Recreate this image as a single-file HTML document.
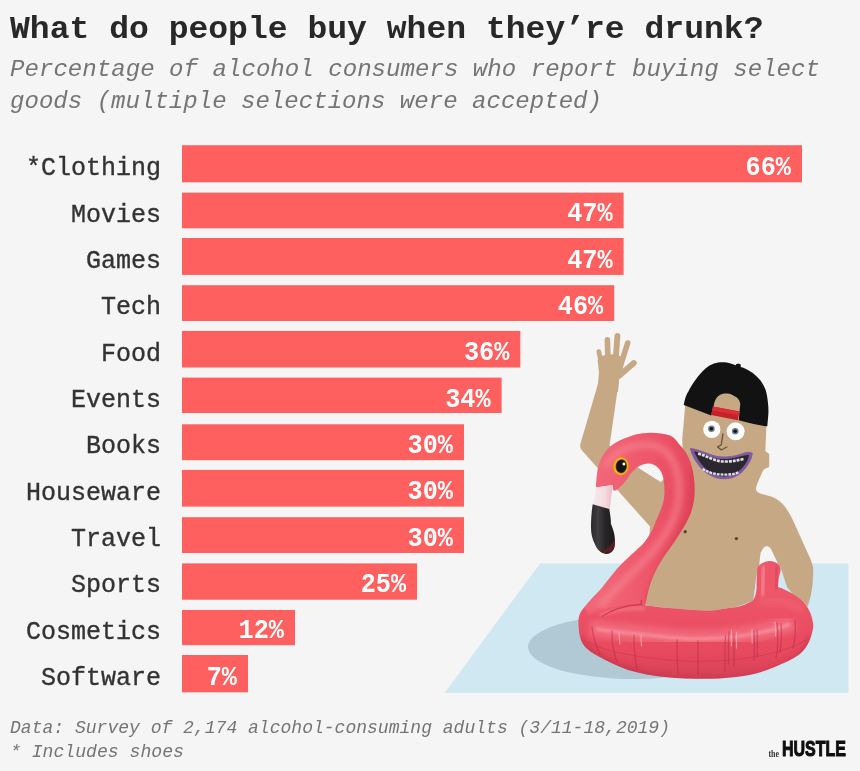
<!DOCTYPE html>
<html><head><meta charset="utf-8">
<style>
html,body{margin:0;padding:0;background:#f5f5f5;}
body{width:860px;height:771px;overflow:hidden;font-family:"Liberation Mono",monospace;}
svg{display:block;position:absolute;left:0;top:0;filter:blur(0.55px);}
text{font-family:"Liberation Mono",monospace;}
.lbl text{font-size:25px;fill:#333;text-anchor:end;stroke:#333;stroke-width:0.35px;}
.val text{font-size:26.4px;font-weight:bold;fill:#fff;text-anchor:end;}
</style></head><body>
<svg width="860" height="771" viewBox="0 0 860 771">
<rect width="860" height="771" fill="#f5f5f5"/>
<!-- TITLE -->
<text transform="translate(10,38.2) scale(1,1.07)" x="0" y="0" font-size="30" font-weight="bold" fill="#282828" textLength="753.5" lengthAdjust="spacingAndGlyphs">What do people buy when they’re drunk?</text>
<text x="10" y="76" font-size="24" font-style="italic" fill="#757575" textLength="810" lengthAdjust="spacingAndGlyphs">Percentage of alcohol consumers who report buying select</text>
<text x="10" y="107.5" font-size="24" font-style="italic" fill="#757575" textLength="592" lengthAdjust="spacingAndGlyphs">goods (multiple selections were accepted)</text>
<!-- BARS -->
<g fill="#fe605f">
<rect x="182" y="145.2" width="620.0" height="37.1"/>
<rect x="182" y="192.6" width="441.6" height="35.7"/>
<rect x="182" y="238.0" width="441.6" height="36.9"/>
<rect x="182" y="285.2" width="432.2" height="35.8"/>
<rect x="182" y="330.9" width="338.3" height="36.6"/>
<rect x="182" y="377.6" width="319.6" height="35.4"/>
<rect x="182" y="424.3" width="282.0" height="35.9"/>
<rect x="182" y="469.9" width="282.0" height="36.7"/>
<rect x="182" y="517.2" width="282.0" height="35.8"/>
<rect x="182" y="563.4" width="235.1" height="36.3"/>
<rect x="182" y="610.0" width="113.0" height="35.2"/>
<rect x="182" y="655.0" width="66.0" height="37.3"/>
</g>
<!-- LABELS -->
<g class="lbl">
<text transform="translate(161,175.2) scale(1,1.05)">*Clothing</text>
<text transform="translate(161,221.6) scale(1,1.05)">Movies</text>
<text transform="translate(161,267.9) scale(1,1.05)">Games</text>
<text transform="translate(161,314.3) scale(1,1.05)">Tech</text>
<text transform="translate(161,360.6) scale(1,1.05)">Food</text>
<text transform="translate(161,407.0) scale(1,1.05)">Events</text>
<text transform="translate(161,453.4) scale(1,1.05)">Books</text>
<text transform="translate(161,499.7) scale(1,1.05)">Houseware</text>
<text transform="translate(161,546.1) scale(1,1.05)">Travel</text>
<text transform="translate(161,592.4) scale(1,1.05)">Sports</text>
<text transform="translate(161,638.8) scale(1,1.05)">Cosmetics</text>
<text transform="translate(161,685.2) scale(1,1.05)">Software</text>
</g>
<g class="val">
<text transform="translate(791.0,175.0) scale(0.955,1.08)">66%</text>
<text transform="translate(612.6,221.3) scale(0.955,1.08)">47%</text>
<text transform="translate(612.6,267.7) scale(0.955,1.08)">47%</text>
<text transform="translate(603.2,314.0) scale(0.955,1.08)">46%</text>
<text transform="translate(509.3,360.4) scale(0.955,1.08)">36%</text>
<text transform="translate(490.6,406.7) scale(0.955,1.08)">34%</text>
<text transform="translate(453.0,453.0) scale(0.955,1.08)">30%</text>
<text transform="translate(453.0,499.4) scale(0.955,1.08)">30%</text>
<text transform="translate(453.0,545.7) scale(0.955,1.08)">30%</text>
<text transform="translate(406.1,592.1) scale(0.955,1.08)">25%</text>
<text transform="translate(284.0,638.4) scale(0.955,1.08)">12%</text>
<text transform="translate(237.0,684.7) scale(0.955,1.08)">7%</text>
</g>
<!-- FOOTER -->
<text x="10" y="733.2" font-size="19" font-style="italic" fill="#757575" textLength="660" lengthAdjust="spacingAndGlyphs">Data: Survey of 2,174 alcohol-consuming adults (3/11-18,2019)</text>
<text x="10" y="757.2" font-size="19" font-style="italic" fill="#757575" textLength="174" lengthAdjust="spacingAndGlyphs">* Includes shoes</text>
<!-- LOGO -->
<g id="logo">
<text x="782" y="756.4" style="font-family:'Liberation Sans',sans-serif" font-size="21.5" font-weight="bold" fill="#0e0e0e" stroke="#0e0e0e" stroke-width="1" textLength="64" lengthAdjust="spacingAndGlyphs">HUSTLE</text>
<text x="768.4" y="756.6" style="font-family:'Liberation Serif',serif" font-size="11" font-weight="bold" fill="#333" textLength="10.5" lengthAdjust="spacingAndGlyphs">the</text>
</g>

<!-- ILLUSTRATION -->
<defs>
<linearGradient id="ringG" gradientUnits="userSpaceOnUse" x1="0" y1="590" x2="0" y2="680">
<stop offset="0" stop-color="#ee576a"/><stop offset="0.3" stop-color="#ec5064"/><stop offset="0.7" stop-color="#e7495e"/><stop offset="0.9" stop-color="#db4359"/><stop offset="1" stop-color="#ce3c52"/>
</linearGradient>
<linearGradient id="neckG" gradientUnits="userSpaceOnUse" x1="600" y1="0" x2="700" y2="0">
<stop offset="0" stop-color="#f16777"/><stop offset="0.5" stop-color="#ee566a"/><stop offset="1" stop-color="#e5465c"/>
</linearGradient>
<filter id="b1" x="-20%" y="-20%" width="140%" height="140%"><feGaussianBlur stdDeviation="1.6"/></filter>
<filter id="b2" x="-20%" y="-20%" width="140%" height="140%"><feGaussianBlur stdDeviation="3"/></filter>
<filter id="b05" x="-20%" y="-20%" width="140%" height="140%"><feGaussianBlur stdDeviation="0.6"/></filter>
<path id="ringP" d="M584,607.5 C580,612 578,617 578.5,622 C578.5,629 579,635 581.2,640.5 C584.5,648 590.5,652 598.5,656.3 C607.5,661.3 617.5,666.2 627.5,669.8 C640,673.5 653,676 667,677.3 C680,678.5 695,678.9 710,678.8 C722,678.6 733,677.5 744.7,675.8 C756,674 766,670.5 774.6,666.9 C784,663 792,659.5 798.4,655 C804.5,650.5 808.5,644 810.8,637 C813,630 813.6,627 813,623.4 C812.5,619 811.5,616 810.4,613 C808.5,609 806.5,605.5 804,602.6 C800.5,599 796.5,596 792.3,593.6 C788,591 783,588.5 778,587 L778.6,579.3 C779,575 780.8,572 780.6,569 C780.3,566.5 779.6,565.2 778.6,564.4 C776,562 772.5,560.8 768.9,561 C764.5,561.5 760,563.8 757.9,567 L757.2,569 C756.6,576 756.8,583 756.6,588.4 C756.3,593 755,597 753.3,600 C749.5,602.5 746.5,604 743,605.2 C739,606.6 734.5,607.4 730,607.8 C722,609.4 716,610.3 710,610.4 C698,610.5 687,609.7 676.7,608.6 C666,607.6 655,606.5 645.6,605.4 L640,598 L615,585 Z"/>
<path id="neckP" d="M595.9,487.4 C596.3,478 597.2,472 597.9,468 C599,463 600.3,459.5 602.4,456.3 C605,452 608.5,447.8 612.8,444.6 C617.5,441 622.5,438.6 628.4,436.9 C634.5,434.5 641,433.2 647.8,433 C655,432.5 663,433.5 670,435.6 C674,437.5 676.5,440.5 679,444 C683.5,448.5 686.5,453 688.7,457.5 C691,463 692.7,469 693.5,475 C694.5,481.5 694.8,488 694.5,494.5 C694,503 692,511 688.7,517.8 C685,526 680,533.5 675,541 C670,548.5 665,554.5 661.4,560.6 C657,568 654,574 651.7,580 C649,587 647,596 645.6,604.6 L641.7,604.5 C633,604.4 625,604.8 618,606 C607,608 597,611 589,614 L584,607.5 C590,600 596,594 600.9,589 C606,582.5 611,576 616.4,569.5 C622,563 632,554 642,545 C650,536 654,527 655.6,521.7 C660,512 663,505 663.9,498.4 C664.8,492.6 664.6,488 663.4,478.4 C662.3,473.5 660.8,470.5 658.2,468 C655.5,465 652,463.3 647.8,463.5 C643.5,463.7 640.5,465.2 637.4,467.3 C634,469.7 631,473 628.4,477 C625.5,481.5 621,487 616.5,490 C615,491 613.5,490.8 613,489.5 L612.8,484.9 Z"/>
<clipPath id="ringC"><use href="#ringP"/></clipPath>
<clipPath id="neckC"><use href="#neckP"/></clipPath>
<linearGradient id="bandG" gradientUnits="userSpaceOnUse" x1="594" y1="0" x2="613" y2="0"><stop offset="0" stop-color="#f6e9e9"/><stop offset="0.55" stop-color="#f4dcdf"/><stop offset="1" stop-color="#eebcc5"/></linearGradient>
<linearGradient id="beakG" gradientUnits="userSpaceOnUse" x1="591" y1="0" x2="615" y2="0"><stop offset="0" stop-color="#2a282a"/><stop offset="0.3" stop-color="#403e40"/><stop offset="0.6" stop-color="#262425"/><stop offset="1" stop-color="#1c1a1b"/></linearGradient>
</defs>
<g id="illus">
<!-- pool -->
<polygon points="540,563.4 848.4,563.4 848.4,692.9 444.6,692.9" fill="#cfe8f2"/>
<ellipse cx="633" cy="647" rx="105" ry="32" fill="#b1c9d5"/>
<!-- man skin -->
<g fill="#c6a984" stroke="none">
<path d="M600,377 L580.2,444.5 Q579.6,448 582,450.5 L650,526.5 L648,560 L645.6,605.4 C655,606.5 666,607.5 676.7,608.6 C687,609.7 698,610.5 710,610.4 C716,610.3 722,609.4 730,607.8 C737,607.2 745,604.5 753.3,600 L757,571 L759.2,565 L760.5,553 Q765.5,541.5 771,549 L778,563.7 L780.6,567.6 L787,587 L792.3,593.6 L804,602.6 L807.8,606.5 L811,594.9 Q813.5,583 813.2,569 Q813,565 810,558 L802.3,540.9 L794.5,523.8 C793,520 791,516 788.2,511.4 C786,508 784,505 780.5,502 C778,500 776,498.5 771.1,496.6 L760.2,493.5 Q755.5,491.5 756,488 Q756.5,484.5 758.7,480.2 L763.3,470 L765.3,468.7 L769.2,466.7 L769.2,454 L765.3,451 L766.7,420 L766,395 L700,390 L685.5,401.5 L682.2,440 L683,456 L661,482.3 L637.4,467.3 L609.5,445.5 L619.3,378 Z"/>
<!-- hand -->
<path d="M597.2,392 L599,372 L597.6,360 Q600,354.5 610,354.5 Q620,353.5 624.2,360 L622.6,371 L619,380 L618,392 Z"/>
<g stroke="#c6a984" stroke-linecap="round" fill="none">
<path d="M601.3,364 L598.9,351.6" stroke-width="4.8"/>
<path d="M608,362 L607.4,339.8" stroke-width="5.6"/>
<path d="M615.5,362 L617.4,336" stroke-width="5.9"/>
<path d="M621,364 L627.7,343" stroke-width="5.6"/>
<path d="M619.5,375.5 L633.8,363" stroke-width="5.8"/>
</g>
</g>
<!-- nipples -->
<circle cx="685.2" cy="531.8" r="1.7" fill="#5b4630"/>
<circle cx="736.4" cy="538.6" r="1.7" fill="#5b4630"/>
<!-- cap -->
<path d="M683.8,405 C685,398 686.5,394.5 688.4,391.6 C690.5,387 693,383 695.8,379.4 C698.5,375.5 702,371.5 705.5,368.4 C708,366.3 711,364.6 714,363.5 C717,362.5 720.5,362.2 723.8,362.3 C728,362.5 732,363.8 736,365.4 C738.5,366.2 741,367 743.4,367.8 C747,369.3 750,371.2 753.1,373.3 C755.8,375.4 758.3,377.9 760.5,380.6 C762.5,383.3 764.1,386.1 765.4,389.2 C766.7,393 767.4,397 767.8,401.4 C768.4,405.5 768.5,409.5 768.4,413.6 L767.3,426.3 C760,425.5 750,423.3 738.7,420.3 L740.3,403.8 C739.5,400 738,398.3 736,397 C733,395 730,393.7 727.5,393.5 C724.5,393.3 722,393.8 720.2,394.7 C717.5,396.3 715.8,398.5 714.7,401.4 L711.2,415.6 L683.8,405 Z" fill="#131212"/>
<rect x="735.6" y="363.7" width="5.2" height="4" rx="1.6" fill="#131212"/>
<polygon points="713,406.6 739.3,411.6 737.8,420.2 711,415" fill="#c3212b"/>
<polygon points="713,406.6 739.3,411.6 738.6,415.6 712.1,410.6" fill="#dc2c36"/>
<!-- eyes -->
<circle cx="711.8" cy="429.4" r="8.6" fill="#fdfdfd"/>
<circle cx="735.6" cy="431.3" r="9" fill="#fdfdfd"/>
<circle cx="711.4" cy="428.8" r="3.3" fill="#6f7c88"/><circle cx="711.4" cy="428.8" r="1.8" fill="#15171a"/>
<circle cx="735.2" cy="431.3" r="3.3" fill="#6f7c88"/><circle cx="735.2" cy="431.3" r="1.8" fill="#15171a"/>
<!-- nose -->
<path d="M722.9,434 L721.2,445 L717.6,446.9 L721.3,450 L726.8,447" fill="none" stroke="#6a573c" stroke-width="1.4" stroke-linecap="round" stroke-linejoin="round"/>
<!-- mouth -->
<path d="M690.5,448.2 C695,449 703,451.5 711.2,454.8 C716,456.5 720,457 724.2,457 C729,457 733,456.3 737.3,455.3 C741,454 745,452.8 747.8,452.2 L752.3,453 C752,457 750.5,460.5 748.6,463.5 C747,466.5 745,469 742.5,471.4 C740,473.8 737,475.8 733.8,477.1 C731,478.3 727.5,478.8 724.2,478.8 C721,478.8 718,478.4 715.5,477.5 C712.5,476.5 709.5,475 706.8,473.1 C703.5,470.7 700.5,467.8 698.1,464.4 C696,461.5 694,458.5 692.8,455.7 C691.5,453 690.8,450.5 690.5,448.2 Z" fill="#80589d" stroke="#80589d" stroke-width="0.8" stroke-linejoin="round"/>
<path d="M694,451.2 C699,452.4 705,454.4 711.2,456.9 C716,458.6 720,459.1 724.2,459.1 C729,459.1 733,458.4 737.3,457.3 C741,456.3 745,455.1 749,454.7 C748.7,457.5 747.7,460 746.2,462.5 C744.7,465.2 742.7,467.6 740.4,469.8 C738.2,471.8 735.7,473.5 733,474.7 C730.2,475.9 727,476.4 724.2,476.4 C721.3,476.4 718.6,476 716.3,475.1 C713.6,474.2 710.8,472.8 708.4,471 C705.3,468.8 702.6,465.9 700.4,462.7 C697.8,459 695.5,455 694,451.2 Z" fill="#2a2730"/>
<path d="M698.1,453.4 C703,455 707,456.8 711.2,458.5 C716,460.5 720,461.5 724.2,461.5 C727.5,461.6 731,461.3 733.8,460.9 C737,460.4 740,459.8 743.5,459" fill="none" stroke="#e2e0e6" stroke-width="2.6" stroke-dasharray="3 1"/>
<path d="M702.6,468.9 C705.5,470.6 708,471.8 711.2,472.8 C715.5,474 720,474.6 724.2,474.6 C727.5,474.6 731,474.4 733.8,473.9 C735.5,473.5 737,473 738.5,472.3" fill="none" stroke="#e2e0e6" stroke-width="2.3" stroke-dasharray="2.8 1"/>
<!-- ring -->
<use href="#ringP" fill="url(#ringG)"/>
<g clip-path="url(#ringC)">
<!-- bottom shadow -->
<path d="M578,640 C600,668 660,685 710,685 C760,685 800,668 815,636" fill="none" stroke="#c43449" stroke-width="8" filter="url(#b2)" opacity="0.8"/>
<!-- highlight band -->
<path d="M590,628 C610,631 640,634 657,635.5 C670,637 685,638.3 695,638.3 C712,638.3 730,637 744,635 C762,632 780,628 794,622" fill="none" stroke="#f47585" stroke-width="17" filter="url(#b2)" opacity="0.7"/>
<path d="M596,629 C612,631.5 640,634.5 657,636 C670,637.5 685,638.8 695,638.8 C712,638.8 730,637.5 744,635.5 C762,632.5 778,629 790,624" fill="none" stroke="#f9a3ad" stroke-width="3" filter="url(#b1)" opacity="0.7"/>
<path d="M600,615 C615,609 630,607.5 645,608.5" fill="none" stroke="#f47c8a" stroke-width="4" filter="url(#b1)" opacity="0.7"/>
<path d="M760,603 C775,598 790,601 802,611" fill="none" stroke="#f26f7e" stroke-width="6" filter="url(#b2)" opacity="0.5"/>
<path d="M764,566 C763,575 763,585 762,596" fill="none" stroke="#f68b98" stroke-width="4" filter="url(#b1)" opacity="0.8"/>
<path d="M777,566 C776,575 775,582 776,590" fill="none" stroke="#d43c52" stroke-width="3" filter="url(#b1)" opacity="0.7"/>
<!-- horizontal seam -->
<path d="M584,640 C600,650 630,656 657,658.7 C670,660.5 685,661.4 695,661.4 C712,661.4 730,660.3 744,658.5 C765,655.5 790,650 806,640" fill="none" stroke="#cf3a4f" stroke-width="1" opacity="0.7"/>
<!-- vertical seams -->
<g fill="none" stroke="#b42c4e" stroke-width="1.3" opacity="0.5" filter="url(#b05)" stroke-linecap="round">
<path d="M592,627 C593,636 596,646 600,654"/>
<path d="M612,631 C612,642 614,654 617,662"/>
<path d="M634,635 C634,648 635,660 637,669"/>
<path d="M677,640 C677,654 677,664 678,674"/>
<path d="M698,641 C698,655 698,665 698,674"/>
<path d="M725.5,636 C724.5,648 725,660 725,671"/>
<path d="M729,632 C728,645 729,655 728.5,664"/>
<path d="M734,634 C733.5,646 734.5,656 734,666"/>
<path d="M754,631 C754.5,642 754.5,652 754,660"/>
<path d="M757,630 C757.5,640 757.5,650 757,657"/>
<path d="M777,623 C778.5,636 778,648 776,658"/>
<path d="M781,624 C782,634 781.5,644 780,652"/>
<path d="M795,620 C796,630 795,640 793,648"/>
</g>
<g fill="none" stroke="#fbb6c0" stroke-width="1.2" opacity="0.65" filter="url(#b05)" stroke-linecap="round">
<path d="M731.5,630 C731,636 731.2,641 731.5,646"/>
<path d="M736.5,632 C736.3,637 736.5,642 736.5,648"/>
<path d="M752,629.5 C752,634 752,638 752.2,643"/>
<path d="M775,622 C775.5,627 775.8,631 775.5,636"/>
<path d="M641,635.5 C641,639 641.2,642 641.5,646"/>
<path d="M619,632 C619,636 619.5,640 620,644"/>
</g>
</g>
</g>
<!-- neck -->
<use href="#neckP" fill="url(#neckG)"/>
<g clip-path="url(#neckC)">
<path d="M606,468 C612,452 630,444 650,445 C672,447 680,470 679,495 C678,520 660,545 640,565 C625,580 612,592 600,606" fill="none" stroke="#f68694" stroke-width="6" filter="url(#b2)" opacity="0.75"/>
<path d="M693,470 C697,500 690,520 676,542 C664,560 654,580 648,604" fill="none" stroke="#cf3a50" stroke-width="5" filter="url(#b2)" opacity="0.7"/>
</g>
<!-- crease -->
<path d="M587,613.5 C593,612 598,610.5 604,609" fill="none" stroke="#ef5d70" stroke-width="4" filter="url(#b1)" opacity="0.9"/>
<path d="M602,616.5 C607,613 612,610.5 618,608.6 C625,606.3 633,604.8 641,604.4 L641.5,600" fill="none" stroke="#bf2f47" stroke-width="1.3" opacity="0.75" filter="url(#b05)"/>
<!-- beak -->
<polygon points="595.9,487.4 612.8,484.9 609.6,511 593.2,504.6" fill="url(#bandG)"/>
<path d="M592.7,504.3 L609.2,509 C610.5,516 611,520 610.9,523.7 C613,529 614.5,533 614.7,537.3 C615,542 615,546 613.8,549 C612,553 608,554.5 605,553.8 C600,552.5 597,549 595.3,545 C592,539 591,533 591,527.5 C591,519 591.5,512 592.7,504.3 Z" fill="url(#beakG)"/>
<path d="M600,551 C604,554.5 611,553.5 613.8,549 C615,546 615,542 614.7,538 C612,546 606,550 600,551 Z" fill="#5a1c24"/>
<!-- flamingo eye -->
<g transform="rotate(8 620.9 466.2)">
<ellipse cx="620.9" cy="466.2" rx="8.3" ry="9.6" fill="#e38f1c"/>
<ellipse cx="620.9" cy="466.2" rx="7.3" ry="8.6" fill="#f5ae2a"/>
<ellipse cx="621.3" cy="466.2" rx="5.7" ry="7" fill="#6b4a12"/>
<ellipse cx="621.3" cy="466.2" rx="5" ry="6.3" fill="#161313"/>
<circle cx="623.6" cy="463.6" r="1.5" fill="#fff"/>
</g>
</g>

</svg>
</body></html>
